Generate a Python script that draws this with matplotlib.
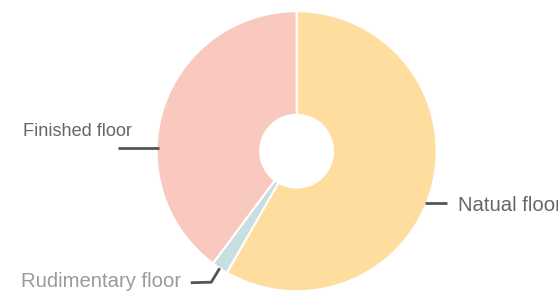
import numpy as np
import matplotlib.pyplot as plt

labels = ['Natual floor', 'Rudimentary floor', 'Finished floor']
values = [58.3, 1.9, 39.8]
colors = ['#fedd9e', '#c7dfe0', '#f9c8bf']
text_colors = ['#666666', '#9a9a9a', '#666666']
font_sizes = [14.6, 14.6, 13.1]

W, H = 558, 292
fig = plt.figure(figsize=(W / 100, H / 100), dpi=100)
ax = fig.add_axes([0, 0, 1, 1])

cx, cy, R = 296.6, H - 151.2, 140
wedges, _ = ax.pie(values, colors=colors, startangle=90, counterclock=False,
                   center=(cx, cy), radius=R, explode=[0, 0.01, 0],
                   wedgeprops=dict(width=R * 0.74, edgecolor='white', linewidth=1.5),
                   frame=True)
ax.set_xlim(0, W)
ax.set_ylim(0, H)
ax.set_aspect('equal')
ax.axis('off')

fam = ['Liberation Sans', 'DejaVu Sans']
line_kw = dict(color='#555555', lw=2, solid_capstyle='butt')

# Natual floor: horizontal leader on the right
y = H - 203.3
x0 = cx + np.sqrt(R**2 - (y - cy)**2)
ax.plot([x0 - 2, x0 + 20], [y, y], **line_kw)
ax.text(x0 + 31, H - 210.7, labels[0], color=text_colors[0], va='baseline', ha='left',
        family=fam, fontsize=font_sizes[0])

# Finished floor: horizontal leader on the left, label above
y = H - 148
x0 = cx - np.sqrt(R**2 - (y - cy)**2)
ax.plot([x0 + 2, x0 - 39], [y, y], **line_kw)
ax.text(x0 - 25, H - 136.5, labels[2], color=text_colors[2], va='baseline', ha='right',
        family=fam, fontsize=font_sizes[2])

# Rudimentary floor: bent leader from the slice
w = wedges[1]
mid = np.deg2rad((w.theta1 + w.theta2) / 2)
px, py = w.center[0] + R * np.cos(mid), w.center[1] + R * np.sin(mid)
ax.plot([px, px - 8.5, px - 29], [py, py - 14, py - 14.5], **line_kw)
ax.text(px - 38.5, py - 19, labels[1], color=text_colors[1], va='baseline', ha='right',
        family=fam, fontsize=font_sizes[1])

fig.savefig('out.png', dpi=100)
